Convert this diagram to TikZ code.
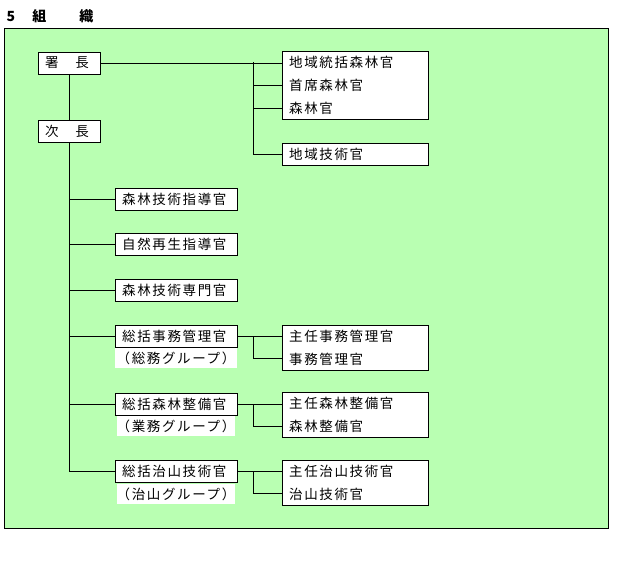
\documentclass[tikz,border=0pt]{standalone}
\usepackage{fontspec}
\newfontfamily\jpfont[LetterSpace=12]{Noto Sans CJK JP}
\definecolor{bggreen}{RGB}{185,255,178}
\begin{document}
\begin{tikzpicture}[x=1pt,y=-1pt,
  font=\jpfont\fontsize{13.5}{23}\selectfont,
  post/.style={draw,fill=white,minimum height=22pt,inner ysep=0pt,inner xsep=7pt,
    anchor=west,align=left},
  grp/.style={fill=white,minimum height=20pt,inner sep=0pt},
  line/.style={line width=0.8pt}]
\useasboundingbox (0,0) rectangle (628,564);

%% frame and title
\draw[fill=bggreen, line width=0.8pt] (4,28) rectangle (608,528);
\node[anchor=west, font=\jpfont\bfseries\fontsize{14}{16}\selectfont] (title) at (3,16) {5　組　　織};

%% heads
\node[post, text width=48pt] (chief) at (38,63) {署　長};
\node[post, text width=48pt] (vice) at (38,131) {次　長};

%% right of chief
\node[post, text width=132pt, minimum height=68pt, anchor=north west] (forest) at (282,51)
  {地域統括森林官\\首席森林官\\森林官};
\node[post, text width=132pt] (tech) at (282,154) {地域技術官};
\coordinate (j1) at (253,62);

%% staff under vice
\node[post, text width=108pt] (guide) at (115,199) {森林技術指導官};
\node[post, text width=108pt] (nature) at (115,244) {自然再生指導官};
\node[post, text width=108pt] (expert) at (115,290) {森林技術専門官};
\node[post, text width=108pt] (admin) at (115,336) {総括事務管理官};
\node[post, text width=108pt] (works) at (115,404) {総括森林整備官};
\node[post, text width=108pt] (erosion) at (115,471) {総括治山技術官};

%% group labels
\node[grp, minimum width=122pt] (gadmin) at (176,358) {（総務グループ）};
\node[grp, minimum width=116pt] (gworks) at (176,426) {（業務グループ）};
\node[grp, minimum width=116pt] (gerosion) at (176,494) {（治山グループ）};

%% group staff
\node[post, text width=132pt, minimum height=45pt, anchor=north west] (sadmin) at (282,325)
  {主任事務管理官\\事務管理官};
\node[post, text width=132pt, minimum height=45pt, anchor=north west] (sworks) at (282,392)
  {主任森林整備官\\森林整備官};
\node[post, text width=132pt, minimum height=45pt, anchor=north west] (serosion) at (282,460)
  {主任治山技術官\\治山技術官};

%% lines
\draw[line] (chief.south) -- (vice.north);
\draw[line] (vice.south) |- (erosion.west);
\foreach \n in {guide,nature,expert,admin,works} {
  \draw[line] (vice.south |- \n.west) -- (\n.west);
}
\draw[line] (chief.east) -- (forest.west |- chief.east);
\draw[line] (j1) |- (tech.west);
\draw[line] (j1 |- 0,85) -- (forest.west |- 0,85);
\draw[line] (j1 |- 0,108) -- (forest.west |- 0,108);
\foreach \g/\s/\y in {admin/sadmin/336, works/sworks/404, erosion/serosion/471} {
  \draw[line] (\g.east) -- (\s.west |- \g.east);
  \draw[line] (253,\y) |- (\s.west |- 0,\y+22);
}
\end{tikzpicture}
\end{document}
